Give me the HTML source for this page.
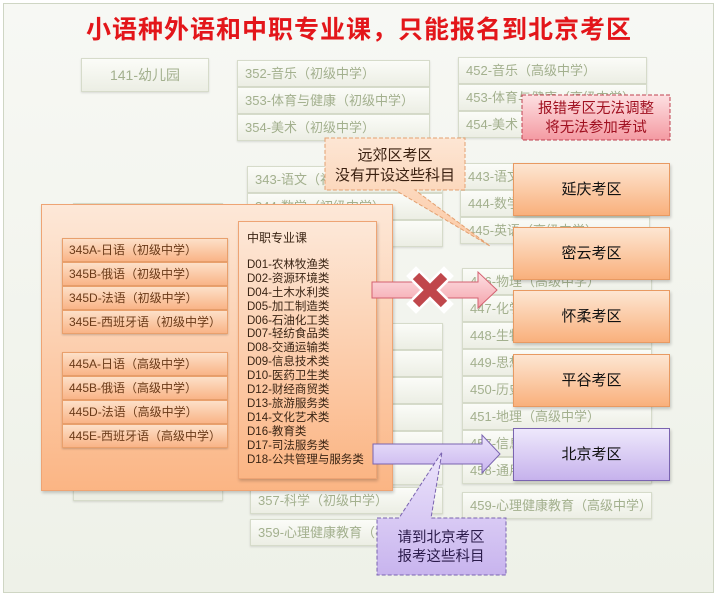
<!DOCTYPE html>
<html><head><meta charset="utf-8"><style>
*{margin:0;padding:0;box-sizing:border-box}
body{width:718px;height:597px;background:#fff;position:relative;overflow:hidden;font-family:"Liberation Sans","Noto Sans CJK SC",sans-serif}
.frame{position:absolute;left:3px;top:3px;width:711px;height:590px;border:1px solid #cfd6c4;background:linear-gradient(#f7f8f4,#eef1e8)}
.g{position:absolute;background:linear-gradient(#fbfcf8,#eceee4);border:1px solid #d6dbca;color:#a3b08e;font-size:13px;line-height:26px;padding-left:7px;white-space:nowrap;overflow:hidden;box-shadow:0 1px 2px rgba(0,0,0,.12)}
.title{position:absolute;left:0;width:718px;top:10px;text-align:center;color:#e3161a;font-size:25px;font-weight:bold;letter-spacing:1px}
.ob{position:absolute;background:linear-gradient(#fde8d8,#fbb584);border:1px solid #eea474;box-shadow:1px 2px 3px rgba(0,0,0,.2)}
.li{position:absolute;left:62px;width:166px;height:24px;background:linear-gradient(#fde0c8,#f9b487);border:1px solid #e9a06c;font-size:12px;line-height:23px;padding-left:6px;color:#6a3a18;box-shadow:0 1px 2px rgba(0,0,0,.2)}
.rg{position:absolute;left:513px;width:157px;height:53px;background:linear-gradient(#fde6d2,#f9b07c);border:1px solid #e89a62;text-align:center;line-height:52px;font-size:15px;color:#111;box-shadow:1px 2px 3px rgba(0,0,0,.2)}
</style></head><body>
<div class="frame"></div>
<div class="title">小语种外语和中职专业课，只能报名到北京考区</div>

<div class="g" style="left:81px;top:58px;width:128px;height:34px;line-height:32px;text-align:center;padding:0;font-size:14px">141-幼儿园</div>
<div class="g" style="left:237px;top:60px;width:193px;height:27px">352-音乐（初级中学）</div>
<div class="g" style="left:237px;top:87px;width:193px;height:27px">353-体育与健康（初级中学）</div>
<div class="g" style="left:237px;top:114px;width:193px;height:27px">354-美术（初级中学）</div>
<div class="g" style="left:458px;top:57px;width:189px;height:27px">452-音乐（高级中学）</div>
<div class="g" style="left:458px;top:84px;width:189px;height:27px">453-体育与健康（高级中学）</div>
<div class="g" style="left:458px;top:111px;width:189px;height:27px">454-美术（高级中学）</div>

<div class="g" style="left:73px;top:203px;width:150px;height:298px"></div>
<div class="g" style="left:247px;top:166px;width:196px;height:27px">343-语文（初级中学）</div>
<div class="g" style="left:247px;top:193px;width:196px;height:27px">344-数学（初级中学）</div>
<div class="g" style="left:247px;top:220px;width:196px;height:27px">345-英语（初级中学）</div>
<div class="g" style="left:247px;top:323px;width:196px;height:27px">346</div>
<div class="g" style="left:247px;top:350px;width:196px;height:27px">347-化学（初级中学）</div>
<div class="g" style="left:247px;top:377px;width:196px;height:27px">348</div>
<div class="g" style="left:247px;top:404px;width:196px;height:27px">349</div>
<div class="g" style="left:247px;top:431px;width:196px;height:27px">350-历史（初级中学）</div>
<div class="g" style="left:247px;top:458px;width:196px;height:27px">351-地理（初级中学）</div>
<div class="g" style="left:250px;top:487px;width:193px;height:27px">357-科学（初级中学）</div>
<div class="g" style="left:250px;top:519px;width:193px;height:27px">359-心理健康教育（初级中学）</div>

<div class="g" style="left:460px;top:163px;width:190px;height:27px">443-语文（高级中学）</div>
<div class="g" style="left:460px;top:190px;width:190px;height:27px">444-数学（高级中学）</div>
<div class="g" style="left:460px;top:217px;width:190px;height:27px">445-英语（高级中学）</div>
<div class="g" style="left:462px;top:268px;width:190px;height:27px">446-物理（高级中学）</div>
<div class="g" style="left:462px;top:295px;width:190px;height:27px">447-化学（高级中学）</div>
<div class="g" style="left:462px;top:322px;width:190px;height:27px">448-生物（高级中学）</div>
<div class="g" style="left:462px;top:349px;width:190px;height:27px">449-思想政治（高级中学）</div>
<div class="g" style="left:462px;top:376px;width:190px;height:27px">450-历史（高级中学）</div>
<div class="g" style="left:462px;top:403px;width:190px;height:27px">451-地理（高级中学）</div>
<div class="g" style="left:462px;top:430px;width:190px;height:27px">457-信息技术（高级中学）</div>
<div class="g" style="left:462px;top:457px;width:190px;height:27px">458-通用技术（高级中学）</div>
<div class="g" style="left:462px;top:492px;width:190px;height:27px">459-心理健康教育（高级中学）</div>

<div class="ob" style="left:41px;top:204px;width:352px;height:287px"></div>
<div class="li" style="top:238px">345A-日语（初级中学）</div>
<div class="li" style="top:262px">345B-俄语（初级中学）</div>
<div class="li" style="top:286px">345D-法语（初级中学）</div>
<div class="li" style="top:310px">345E-西班牙语（初级中学）</div>
<div class="li" style="top:352px">445A-日语（高级中学）</div>
<div class="li" style="top:376px">445B-俄语（高级中学）</div>
<div class="li" style="top:400px">445D-法语（高级中学）</div>
<div class="li" style="top:424px">445E-西班牙语（高级中学）</div>
<div class="ob" style="left:238px;top:221px;width:139px;height:258px;color:#3a2414;font-size:11.5px;padding:10px 0 0 8px;line-height:13.9px;white-space:nowrap">
<div style="margin-bottom:13px;font-size:12px">中职专业课</div>
D01-农林牧渔类<br>D02-资源环境类<br>D04-土木水利类<br>D05-加工制造类<br>D06-石油化工类<br>D07-轻纺食品类<br>D08-交通运输类<br>D09-信息技术类<br>D10-医药卫生类<br>D12-财经商贸类<br>D13-旅游服务类<br>D14-文化艺术类<br>D16-教育类<br>D17-司法服务类<br>D18-公共管理与服务类</div>

<svg width="718" height="597" style="position:absolute;left:0;top:0">
<defs>
<linearGradient id="pk" x1="0" y1="0" x2="0" y2="1"><stop offset="0" stop-color="#fde0e4"/><stop offset="1" stop-color="#f4a3ab"/></linearGradient>
<linearGradient id="pu" x1="0" y1="0" x2="0" y2="1"><stop offset="0" stop-color="#ece4fb"/><stop offset="1" stop-color="#c8b4ee"/></linearGradient>
<linearGradient id="pe" x1="0" y1="0" x2="0" y2="1"><stop offset="0" stop-color="#fde6d4"/><stop offset="1" stop-color="#fbc9a4"/></linearGradient>
<linearGradient id="rd" x1="0" y1="0" x2="0" y2="1"><stop offset="0" stop-color="#fde0e2"/><stop offset="1" stop-color="#f49aa2"/></linearGradient>
</defs>
<!-- callout 1 -->
<path d="M325 138 H465 V190 H415 L490 246 L395 190 H325 Z" fill="url(#pe)" stroke="#e4a070" stroke-dasharray="4,2"/>
<text x="395" y="160" text-anchor="middle" font-size="15" fill="#3a2010" font-family="Liberation Sans,Noto Sans CJK SC,sans-serif">远郊区考区</text>
<text x="395" y="180" text-anchor="middle" font-size="15" fill="#3a2010" font-family="Liberation Sans,Noto Sans CJK SC,sans-serif">没有开设这些科目</text>
<!-- red callout -->
<rect x="522" y="95" width="148" height="45" fill="url(#rd)" stroke="#c04050" stroke-dasharray="4,2"/>
<text x="596" y="113" text-anchor="middle" font-size="14.5" fill="#a01020" font-family="Liberation Sans,Noto Sans CJK SC,sans-serif">报错考区无法调整</text>
<text x="596" y="132" text-anchor="middle" font-size="14.5" fill="#a01020" font-family="Liberation Sans,Noto Sans CJK SC,sans-serif">将无法参加考试</text>
<!-- pink arrow -->
<path d="M372 282 H478 V272 L497 290 L478 308 V298 H372 Z" fill="url(#pk)" stroke="#d46070"/>
<g stroke="#fff" stroke-width="14" stroke-linecap="square"><line x1="416" y1="276" x2="444" y2="304"/><line x1="444" y1="276" x2="416" y2="304"/></g>
<g stroke="#c0474c" stroke-width="9"><line x1="416" y1="276" x2="444" y2="304"/><line x1="444" y1="276" x2="416" y2="304"/></g>
<!-- purple arrow -->
<path d="M373 444 H482 V435 L500 454 L482 473 V464 H373 Z" fill="url(#pu)" stroke="#7a64b0"/>
<!-- purple callout -->
<path d="M377 518 H399 L442 452 L431 518 H506 V575 H377 Z" fill="url(#pu)" stroke="#7a64b0" stroke-dasharray="4,2"/>
<text x="441" y="542" text-anchor="middle" font-size="14.5" fill="#2a1a4a" font-family="Liberation Sans,Noto Sans CJK SC,sans-serif">请到北京考区</text>
<text x="441" y="561" text-anchor="middle" font-size="14.5" fill="#2a1a4a" font-family="Liberation Sans,Noto Sans CJK SC,sans-serif">报考这些科目</text>
</svg>

<div class="rg" style="top:163px">延庆考区</div>
<div class="rg" style="top:227px">密云考区</div>
<div class="rg" style="top:290px">怀柔考区</div>
<div class="rg" style="top:354px">平谷考区</div>
<div class="rg" style="top:428px;background:linear-gradient(#eee8fc,#c6b2ec);border-color:#7a64b0">北京考区</div>
</body></html>
